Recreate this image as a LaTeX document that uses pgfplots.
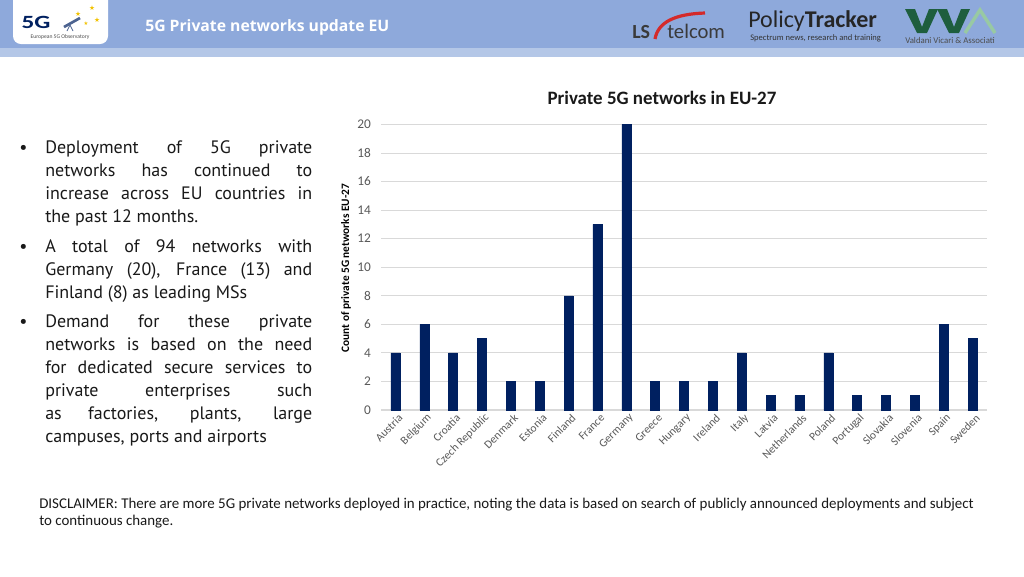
\documentclass[border=0pt]{standalone}
\usepackage{pgfplots}
\pgfplotsset{compat=1.18}
\usepackage{fontspec}
\setmainfont{Carlito}
\newfontfamily\bulletfont{PT Sans}
\newfontfamily\hdrfont{Open Sans}
\newfontfamily\symfont{DejaVu Sans}
\definecolor{hdr}{HTML}{8EA9DB}
\definecolor{hdrb}{HTML}{B4C7E7}
\definecolor{navy}{HTML}{002060}
\definecolor{tickc}{HTML}{595959}
\definecolor{gridc}{HTML}{D9D9D9}
\definecolor{lsgray}{HTML}{3A3A3A}
\definecolor{lsred}{HTML}{D42A2A}
\definecolor{vvadark}{HTML}{1E5E3E}
\definecolor{vvalight}{HTML}{98C9A3}
\definecolor{starc}{HTML}{F2C200}

\pgfplotstableread{
idx val
0 4
1 6
2 4
3 5
4 2
5 2
6 8
7 13
8 20
9 2
10 2
11 2
12 4
13 1
14 1
15 4
16 1
17 1
18 1
19 6
20 5
}\eudata

\begin{document}
\begin{tikzpicture}
\begin{scope}[x=0.75pt,y=-0.75pt]
\path[use as bounding box] (0,0) rectangle (1024,576);
\fill[white] (0,0) rectangle (1024,576);
% header
\fill[hdr] (0,0) rectangle (1024,48);
\fill[hdrb] (0,48) rectangle (1024,57);
% left logo
\fill[white,rounded corners=6pt] (13,-10) rectangle (108,44);
\node[anchor=base,inner sep=0,text=navy,font=\bfseries\fontsize{14}{14}\selectfont] at (36,28) {\scalebox{1.35}[1]{5G}};
\node[anchor=center,inner sep=0,text=starc,font=\symfont\fontsize{5}{5}\selectfont] at (78,14) {★};
\node[anchor=center,inner sep=0,text=starc,font=\symfont\fontsize{5}{5}\selectfont] at (92,8) {★};
\node[anchor=center,inner sep=0,text=starc,font=\symfont\fontsize{5}{5}\selectfont] at (97,20) {★};
\node[anchor=center,inner sep=0,text=starc,font=\symfont\fontsize{4}{4}\selectfont] at (86,24) {★};
\draw[navy!70,line width=2pt] (64,27) -- (80,18);
\draw[navy!70,line width=0.6pt] (70,25) -- (67,31) (70,25) -- (73,31);
\node[anchor=base,inner sep=0,text=black!70,font=\fontsize{4.2}{5}\selectfont] at (60,38) {European 5G Observatory};
% header title
\node[anchor=base west,inner sep=0,text=white,font=\hdrfont\bfseries\fontsize{11.8}{12}\selectfont] at (145,31) {5G Private networks update EU};
% LS telcom
\node[anchor=base west,inner sep=0,text=lsgray,font=\bfseries\fontsize{15}{15}\selectfont] at (632,38) {LS};
\node[anchor=base west,inner sep=0,text=lsgray,font=\fontsize{15.5}{15}\selectfont] at (667,38) {telcom};
\draw[lsred,line width=2.4pt] (655,39) .. controls (658,22) and (675,14) .. (705,13);
% PolicyTracker
\node[anchor=base west,inner sep=0,text=black!85,font=\fontsize{18}{18}\selectfont] at (748,27) {Policy\textbf{Tracker}};
\node[anchor=base west,inner sep=0,text=black!80,font=\fontsize{6.4}{7}\selectfont] at (750,40) {Spectrum news, research and training};
% VVA
\fill[vvadark] (905,9) -- (915,9) -- (922,27) -- (929,9) -- (938,9) -- (927,33) -- (917,33) -- cycle;
\fill[vvadark] (937,9) -- (947,9) -- (954,27) -- (961,9) -- (970,9) -- (959,33) -- (949,33) -- cycle;
\draw[vvalight,line width=2.6pt] (965,33) -- (980,10) -- (995,33);
\node[anchor=base west,inner sep=0,text=black!70,font=\fontsize{6.6}{7}\selectfont] at (905,43) {Valdani Vicari \& Associati};
% bullets
\begin{scope}[every node/.style={anchor=base west,inner sep=0,text=black!90,font=\bulletfont\fontsize{13.5}{16}\selectfont}]
\node at (19,153) {•};
\node at (45,153) {\makebox[200.25pt][s]{Deployment of 5G private}};
\node at (45,176) {\makebox[200.25pt][s]{networks has continued to}};
\node at (45,199) {\makebox[200.25pt][s]{increase across EU countries in}};
\node at (45,222) {the past 12 months.};
\node at (19,252) {•};
\node at (45,252) {\makebox[200.25pt][s]{A total of 94 networks with}};
\node at (45,275) {\makebox[200.25pt][s]{Germany (20), France (13) and}};
\node at (45,298) {Finland (8) as leading MSs};
\node at (19,327) {•};
\node at (45,327) {\makebox[200.25pt][s]{Demand for these private}};
\node at (45,350) {\makebox[200.25pt][s]{networks is based on the need}};
\node at (45,373) {\makebox[200.25pt][s]{for dedicated secure services to}};
\node at (45,396) {\makebox[200.25pt][s]{private enterprises such}};
\node at (45,419) {\makebox[200.25pt][s]{as factories, plants, large}};
\node at (45,442) {campuses, ports and airports};
\end{scope}
% disclaimer
\node[anchor=base west,inner sep=0,text=black!90,font=\fontsize{11.2}{13}\selectfont] at (39,508) {DISCLAIMER: There are more 5G private networks deployed in practice, noting the data is based on search of publicly announced deployments and subject};
\node[anchor=base west,inner sep=0,text=black!90,font=\fontsize{11.2}{13}\selectfont] at (39,525) {to continuous change.};
% chart title and y label
\node[anchor=base,inner sep=0,text=black!90,font=\bfseries\fontsize{14.2}{16}\selectfont] at (662,104) {Private 5G networks in EU-27};
\node[anchor=center,inner sep=0,rotate=90,text=black,font=\bfseries\fontsize{8.5}{9}\selectfont] at (346,268) {Count of private 5G networks EU-27};
\end{scope}

\begin{axis}[
  at={(285.75pt,-307.5pt)}, anchor=south west,
  scale only axis, width=454.5pt, height=214.2pt,
  xmin=-0.5, xmax=20.5, ymin=0, ymax=20,
  ybar, bar width=6.75pt, bar shift=0pt,
  axis x line*=bottom, axis y line*=left,
  x axis line style={draw=gridc, line width=0.8pt},
  y axis line style={draw=none},
  major tick length=0pt,
  ytick={0,2,...,20},
  xtick={0,...,20},
  xticklabels={Austria,Belgium,Croatia,Czech Republic,Denmark,Estonia,Finland,France,Germany,Greece,Hungary,Ireland,Italy,Latvia,Netherlands,Poland,Portugal,Slovakia,Slovenia,Spain,Sweden},
  ymajorgrids, grid style={draw=gridc, line width=0.6pt},
  /pgf/number format/assume math mode=true,
  yticklabel style={font=\fontsize{10}{11}\selectfont, text=tickc, xshift=-4pt},
  xticklabel style={rotate=45, anchor=east, font=\fontsize{8.6}{9}\selectfont, text=tickc, yshift=-6pt, xshift=3pt},
  clip=false,
]
\addplot[fill=navy, draw=navy] table[x=idx,y=val] {\eudata};
\end{axis}
\end{tikzpicture}
\end{document}
